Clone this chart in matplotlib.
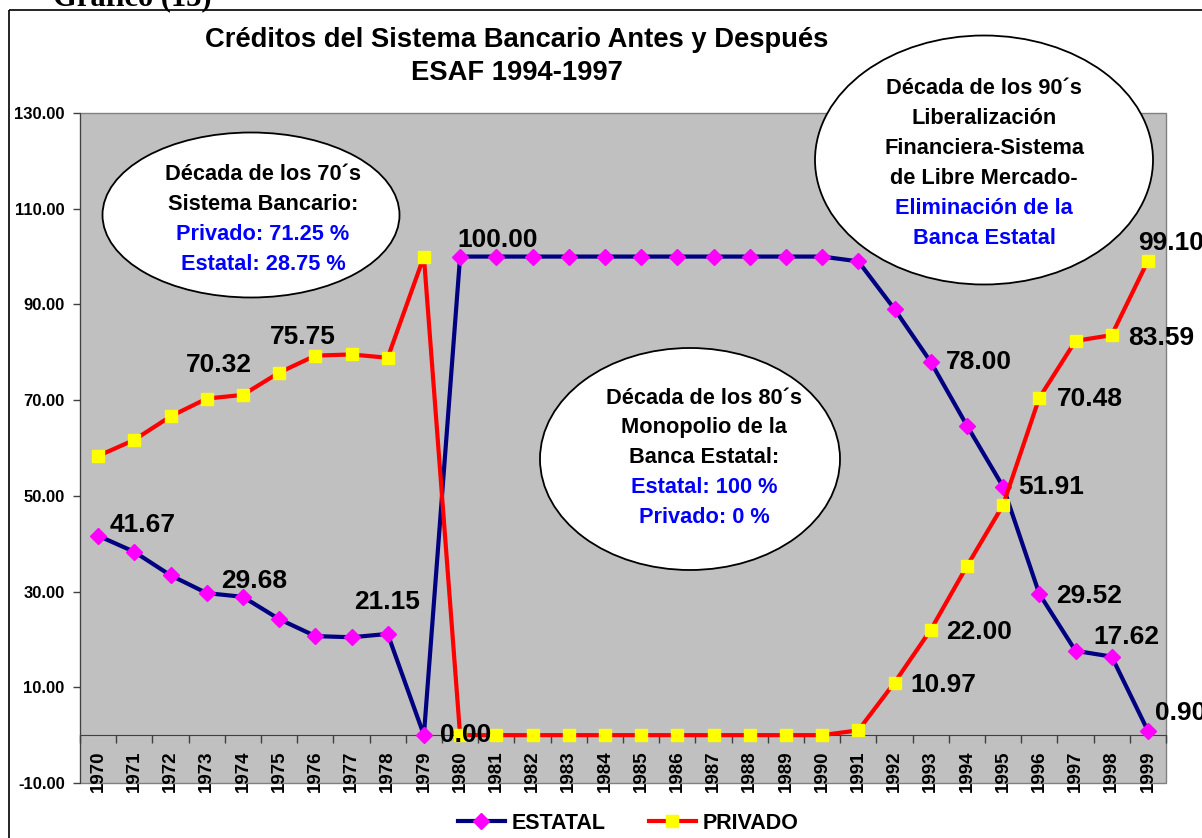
import matplotlib
matplotlib.use("Agg")
import matplotlib.pyplot as plt
from matplotlib.patches import Ellipse, Rectangle

plt.rcParams['font.family'] = ['Liberation Sans', 'DejaVu Sans']
plt.rcParams['font.weight'] = 'bold'

# datos del gráfico
years = ["1970", "1971", "1972", "1973", "1974", "1975", "1976", "1977", "1978", "1979",
         "1980", "1981", "1982", "1983", "1984", "1985", "1986", "1987", "1988", "1989",
         "1990", "1991", "1992", "1993", "1994", "1995", "1996", "1997", "1998", "1999"]
estatal = [41.67, 38.30, 33.40, 29.68, 28.90, 24.25, 20.70, 20.45, 21.15, 0.00,
           100.00, 100.00, 100.00, 100.00, 100.00, 100.00, 100.00, 100.00, 100.00, 100.00,
           100.00, 99.00, 89.03, 78.00, 64.70, 51.91, 29.52, 17.62, 16.41, 0.90]
privado = [58.33, 61.70, 66.60, 70.32, 71.10, 75.75, 79.30, 79.55, 78.85, 100.00,
           0.00, 0.00, 0.00, 0.00, 0.00, 0.00, 0.00, 0.00, 0.00, 0.00,
           0.00, 1.00, 10.97, 22.00, 35.30, 48.09, 70.48, 82.38, 83.59, 99.10]
y_ticks = [-10, 10, 30, 50, 70, 90, 110, 130]

# etiquetas de datos: (serie, año, desplazamiento en pixeles)
labels = [
    ("estatal", "1970", 45, 11),
    ("estatal", "1973", 47, 12),
    ("estatal", "1978", -1, 32),
    ("estatal", "1980", 38, 17),
    ("estatal", "1993", 48, 0),
    ("estatal", "1995", 48, 0),
    ("estatal", "1996", 50, -2),
    ("estatal", "1997", 51, 14),
    ("estatal", "1999", 33, 18),
    ("privado", "1973", 12, 34),
    ("privado", "1975", 24, 36),
    ("privado", "1980", 6, 0),
    ("privado", "1992", 49, -2),
    ("privado", "1993", 48, -2),
    ("privado", "1996", 51, -1),
    ("privado", "1998", 49, -3),
    ("privado", "1999", 23, 18),
]

W, H = 1202, 838
fig = plt.figure(figsize=(W / 100, H / 100), dpi=100)
ax = fig.add_axes([80 / W, 55 / H, 1086 / W, 670 / H])
ax.set_facecolor("#C0C0C0")
ax.patch.set_edgecolor("#808080")
ax.patch.set_linewidth(1.0)
for s in ["top", "right"]:
    ax.spines[s].set_visible(False)
ax.spines["bottom"].set_position(("data", 0))
ax.spines["bottom"].set_color("#404040")
ax.spines["left"].set_color("#404040")

x = list(range(len(years)))
l1, = ax.plot(x, estatal, color="#000080", lw=3, marker="D", ms=8,
              mfc="#FF00FF", mec="#FF00FF", label="ESTATAL", zorder=3, clip_on=False)
l2, = ax.plot(x, privado, color="#FF0000", lw=3, marker="s", ms=8,
              mfc="#FFFF00", mec="#FFFF00", label="PRIVADO", zorder=4, clip_on=False)

series = {"estatal": estatal, "privado": privado}
for name, yr, dx, dy in labels:
    i = years.index(yr)
    v = series[name][i]
    ax.annotate(f"{v:.2f}", (i, v), xytext=(dx, dy), textcoords="offset pixels",
                ha="center", va="center", fontsize=19, fontweight="bold",
                zorder=6, annotation_clip=False)

ax.set_xlim(-0.5, len(years) - 0.5)
ax.set_ylim(-10, 130)
ax.set_yticks(y_ticks)
ax.set_yticklabels([f"{t:.2f}" for t in y_ticks], fontsize=12, fontweight="bold")
ax.set_xticks(x)
ax.set_xticklabels(years, rotation=90, fontsize=13.5, fontweight="bold")
ax.set_xticks([i + 0.5 for i in range(-1, len(years))], minor=True)
ax.tick_params(axis="x", which="major", length=0, pad=11)
ax.tick_params(axis="x", which="minor", length=6, width=1, color="#404040")
ax.tick_params(axis="y", length=5, width=1, color="#404040", pad=6)

# capa superior en pixeles para elipses, titulo y marco
ov = fig.add_axes([0, 0, 1, 1], zorder=5)
ov.set_xlim(0, W)
ov.set_ylim(H, 0)
ov.axis("off")
ov.patch.set_alpha(0)

ov.add_patch(Rectangle((9, 10), W + 50, H + 50, fill=False, ec="black", lw=1.2, clip_on=False))
ov.text(53, 5, "Gráfico (13)", family=["Liberation Serif"], fontsize=22,
        fontweight="bold", ha="left", va="baseline")
ov.text(517, 40, "Créditos del Sistema Bancario Antes y Después", fontsize=19.7,
        fontweight="bold", ha="center", va="center")
ov.text(517, 73, "ESAF 1994-1997", fontsize=19.7, fontweight="bold", ha="center", va="center")

bubbles = [
    ((251, 215), 297, 165, 263, 175,
     [("Década de los 70´s", "black"), ("Sistema Bancario:", "black"),
      ("Privado: 71.25 %", "#0000FF"), ("Estatal: 28.75 %", "#0000FF")]),
    ((690, 459), 300, 222, 704, 398,
     [("Década de los 80´s", "black"), ("Monopolio de la", "black"),
      ("Banca Estatal:", "black"), ("Estatal: 100 %", "#0000FF"),
      ("Privado: 0 %", "#0000FF")]),
    ((984, 160), 338, 249, 984, 89,
     [("Década de los 90´s", "black"), ("Liberalización", "black"),
      ("Financiera-Sistema", "black"), ("de Libre Mercado-", "black"),
      ("Eliminación de la", "#0000FF"), ("Banca Estatal", "#0000FF")]),
]
for center, w, h, tx, ty, lines in bubbles:
    ov.add_patch(Ellipse(center, w, h, fc="white", ec="black", lw=1.3))
    for k, (txt, col) in enumerate(lines):
        ov.text(tx, ty + k * 29.8, txt, color=col, fontsize=15.7, fontweight="bold",
                ha="center", va="center")

fig.legend(handles=[l1, l2], loc="center", bbox_to_anchor=(628 / W, 1 - 823 / H),
           ncol=2, frameon=False, handlelength=2.2,
           handletextpad=0.3, columnspacing=2.0, prop={"weight": "bold", "size": 15.5})

fig.savefig("out.png", dpi=100)
